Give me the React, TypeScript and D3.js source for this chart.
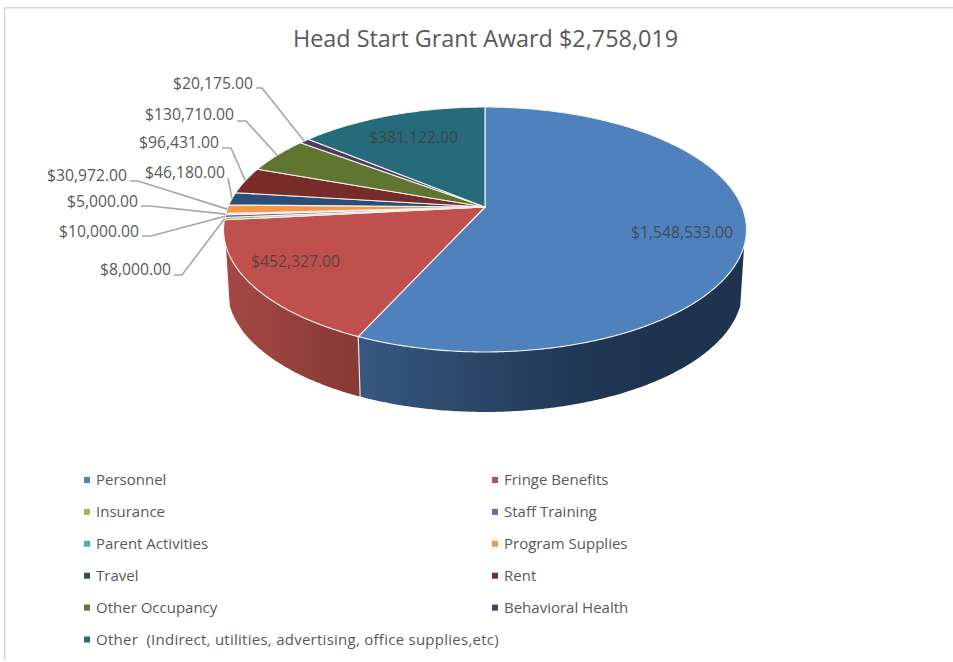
import React from "react";
import * as d3 from "d3";

const categories = ["Personnel","Fringe Benefits","Insurance","Staff Training","Parent Activities","Program Supplies","Travel","Rent","Other Occupancy","Behavioral Health","Other  (Indirect, utilities, advertising, office supplies,etc)"];
const amounts = [1548533,452327,8000,10000,5000,30972,46180,96431,130710,20175,381122];
const colors = ["#4f81bd","#c0504d","#9bbb59","#8064a2","#4bacc6","#f79646","#2c4d75","#772c2a","#5f7530","#4d3b62","#276a7c"];
const title = "Head Start Grant Award $2,758,019";

// layout of the labels outside the pie: [text right edge, text centre y, line y, elbow x]
const outerLayout: Record<string, [number, number, number, number]> = {
  "Behavioral Health": [253, 83, 88, 262],
  "Other Occupancy": [234, 114.5, 121, 246],
  "Rent": [219, 142.7, 148, 231],
  "Travel": [225, 172.7, 178, 228],
  "Program Supplies": [127, 175.7, 181, 138],
  "Parent Activities": [138, 201, 206, 150],
  "Staff Training": [139, 231, 236, 151],
  "Insurance": [171, 269, 275, 182],
};
const innerLayout: Record<string, [number, number]> = {
  "Personnel": [682, 232],
  "Fringe Benefits": [295.5, 261],
  "Other  (Indirect, utilities, advertising, office supplies,etc)": [413.5, 137],
};

const FONT = "'Open Sans', 'Noto Sans', sans-serif";
const fmt = (v: number) => "$" + d3.format(",.2f")(v);

// projective map of the unit disc seen in perspective
const cx = 485, d = 257, apexY = 207, a = 80.3, c = -0.1837;
const project = (t: number, depth = 0) => {
  const u = Math.sin(t), v = -Math.cos(t), w = 1 + c * v;
  const k = depth ? 0.985 : 1;
  return [cx + (k * d * u) / w, (a * v + apexY) / w + depth] as [number, number];
};
const DEPTH = 60;
const WALL_FROM = (108 / 180) * Math.PI;
const WALL_TO = (252 / 180) * Math.PI;

const arcPts = (t0: number, t1: number, depth = 0) => {
  const n = Math.max(2, Math.ceil(Math.abs(t1 - t0) / 0.01));
  return d3.range(n + 1).map((i) => project(t0 + ((t1 - t0) * i) / n, depth));
};
const line = d3.line();

const colorOf = d3.scaleOrdinal<string, string>().domain(categories).range(colors);
const rows = categories.map((name, i) => ({ name, value: amounts[i] }));
const slices = d3.pie<{ name: string; value: number }>().sort(null).value((r) => r.value)(rows);

const wallStops: Record<string, [number, string][]> = {
  "Personnel": [[361, "#36587f"], [480, "#2a4568"], [600, "#1f3550"], [746, "#1e334d"]],
  "Fringe Benefits": [[225, "#a54845"], [361, "#853a35"]],
};

export default function App() {
  const walls = slices.flatMap((s, i) => {
    const t0 = Math.max(s.startAngle, WALL_FROM), t1 = Math.min(s.endAngle, WALL_TO);
    if (t1 <= t0) return [];
    const pts = [...arcPts(t0, t1), ...arcPts(t1, t0, DEPTH)];
    return [{ name: s.data.name, i, d: line(pts) as string }];
  });
  const seams = slices.map((s) => s.endAngle).filter((t) => t > WALL_FROM && t < WALL_TO);

  return (
    <svg width={953} height={662} style={{ position: "fixed", left: 0, top: 0, display: "block", background: "#fff" }} fontFamily={FONT}>
      <defs>
        {walls.map((w) => {
          const st = wallStops[w.name];
          const x0 = st[0][0], x1 = st[st.length - 1][0];
          return (
            <linearGradient key={w.i} id={`wall${w.i}`} gradientUnits="userSpaceOnUse" x1={x0} x2={x1} y1={0} y2={0}>
              {st.map(([x, col]) => (
                <stop key={x} offset={(x - x0) / (x1 - x0)} stopColor={col} />
              ))}
            </linearGradient>
          );
        })}
      </defs>

      <path d="M4.75 660V7.75H953" fill="none" stroke="#d9d9d9" strokeWidth={1.5} />

      <text x={485.5} y={47} textAnchor="middle" fontSize={23.4} fill="#595959">{title}</text>

      {walls.map((w) => (
        <path key={w.i} d={w.d} fill={`url(#wall${w.i})`} />
      ))}
      {seams.map((t) => (
        <path key={t} d={line([project(t), project(t, DEPTH)]) as string} stroke="#e4e4e4" strokeWidth={1.2} fill="none" />
      ))}

      {slices.map((s) => {
        const pts = [[cx, apexY] as [number, number], ...arcPts(s.startAngle, s.endAngle)];
        return (
          <path key={s.data.name} d={(line(pts) as string) + "Z"} fill={colorOf(s.data.name)} stroke="#f2f2f2" strokeWidth={1.1} strokeLinejoin="round" />
        );
      })}

      {slices.map((s) => {
        const L = outerLayout[s.data.name];
        if (L) {
          const [tx, ty, ly, ex] = L;
          const mid = (s.startAngle + s.endAngle) / 2;
          const [px, py] = project(mid);
          const pts: [number, number][] = [[tx + 3, ly], [ex, ly], [px, py]];
          return (
            <g key={s.data.name}>
              <path d={line(pts) as string} fill="none" stroke="#a6a6a6" strokeWidth={1.6} />
              <text x={tx} y={ty + 5.7} textAnchor="end" fontSize={15.7} fill="#595959">{fmt(s.value)}</text>
            </g>
          );
        }
        const I = innerLayout[s.data.name];
        return (
          <text key={s.data.name} x={I[0]} y={I[1] + 5.7} textAnchor="middle" fontSize={15.7} fill="#404040" fillOpacity={0.85}>{fmt(s.value)}</text>
        );
      })}

      {categories.map((name, i) => {
        const col = i % 2;
        const row = Math.floor(i / 2);
        const y = 480 + row * 31.9;
        const x = col ? 492 : 84;
        const long = name.length > 30;
        return (
          <g key={name}>
            <rect x={x} y={y - 3} width={6} height={6} fill={colorOf(name)} />
            <text x={x + 12} y={y + 5} fontSize={15} letterSpacing={long ? 0.26 : 0} fill="#595959" xmlSpace="preserve">{name}</text>
          </g>
        );
      })}
    </svg>
  );
}
